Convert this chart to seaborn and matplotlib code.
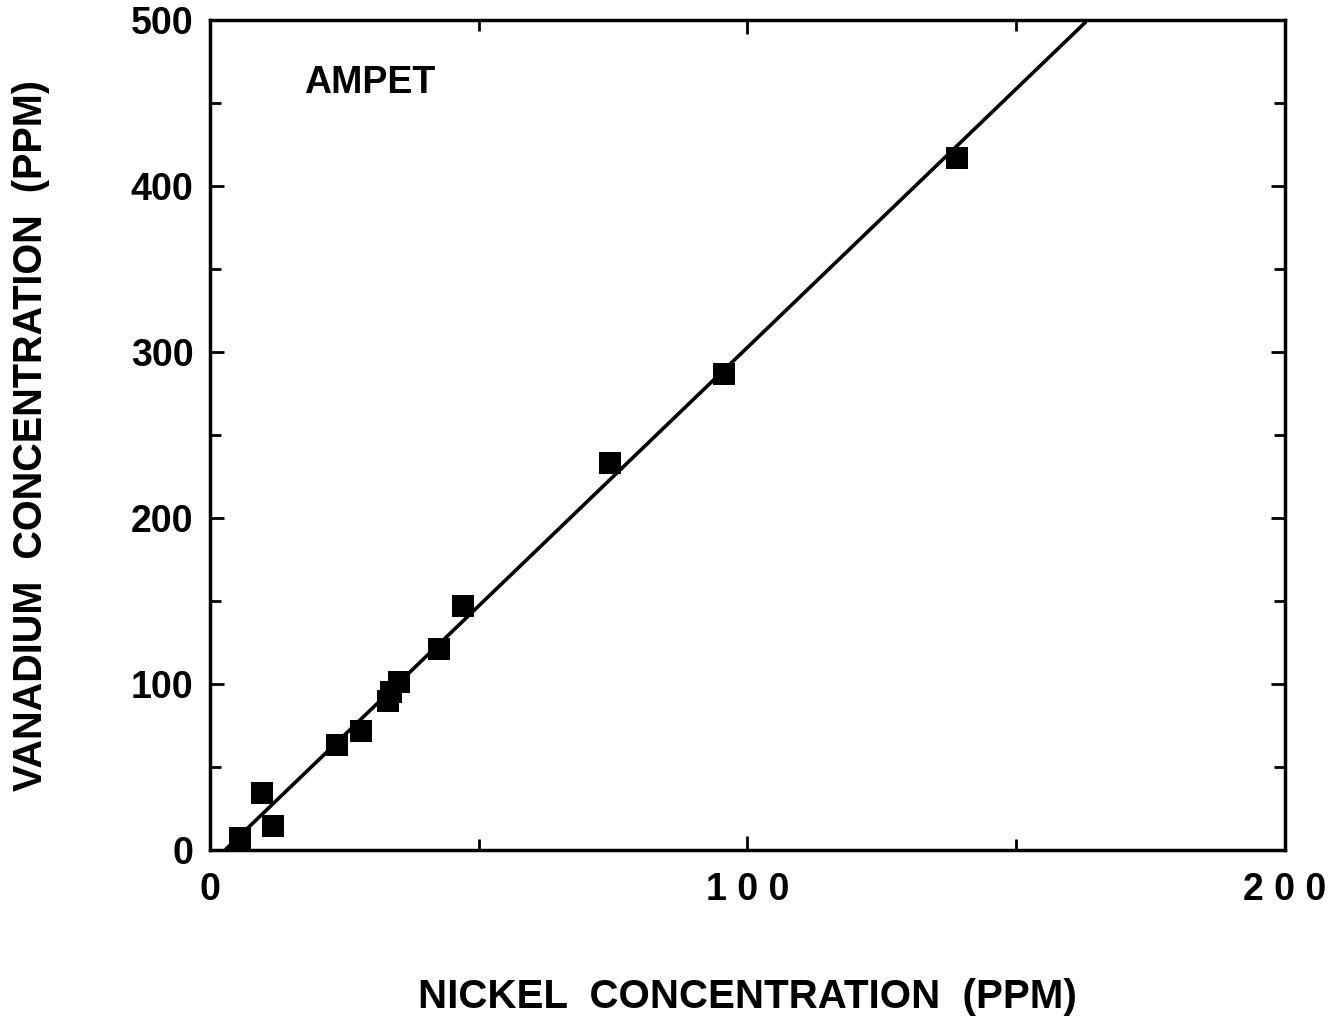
import matplotlib
matplotlib.use("Agg")
import matplotlib.pyplot as plt
import seaborn as sns
import numpy as np
import pandas as pd

nickel = [5.6, 9.7, 11.7, 23.6, 28.1, 33.1, 33.7, 35.2, 42.6, 47.1, 74.4, 95.6, 139.0]
vanadium = [7.2, 34.3, 14.5, 63.0, 72.0, 90.0, 95.0, 101.0, 121.0, 147.0, 233.0, 287.0, 417.0]
fit_slope = 3.115
fit_intercept = -8.7
x_ticks = [0, 100, 200]
x_ticklabels = ["0", "1 0 0", "2 0 0"]
y_ticks = [0, 100, 200, 300, 400, 500]

sns.set_style("white")
plt.rcParams["font.family"] = ["Liberation Sans", "DejaVu Sans"]
plt.rcParams["font.weight"] = "bold"
plt.rcParams["text.color"] = "black"
plt.rcParams["axes.labelcolor"] = "black"
plt.rcParams["xtick.color"] = "black"
plt.rcParams["ytick.color"] = "black"

fig = plt.figure(figsize=(13.34, 10.16), dpi=100)
ax = fig.add_axes([0.1574, 0.1634, 0.963 - 0.1574, 0.980 - 0.1634])

df = pd.DataFrame({"Ni": nickel, "V": vanadium})
sns.scatterplot(data=df, x="Ni", y="V", marker="s", s=240, color="black",
                edgecolor="black", linewidth=0, ax=ax, zorder=3)

x_line = np.linspace(0, 200, 400)
y_line = fit_slope * x_line + fit_intercept
mask = (y_line >= 0) & (y_line <= 500)
sns.lineplot(x=x_line[mask], y=y_line[mask], color="black", linewidth=2.6, ax=ax, zorder=2)

ax.set_xlim(0, 200)
ax.set_ylim(0, 500)
ax.set_xticks(x_ticks)
ax.set_xticklabels(x_ticklabels)
ax.set_yticks(y_ticks)
ax.set_xticks([50, 150], minor=True)
ax.set_yticks([50, 150, 250, 350, 450], minor=True)
ax.tick_params(which="both", direction="in", top=True, right=True, bottom=True, left=True,
               width=2, color="black")
ax.tick_params(which="major", length=10, labelsize=27, pad=12)
ax.tick_params(which="minor", length=8)
ax.tick_params(axis="x", which="major", pad=16)
for lab in ax.get_xticklabels() + ax.get_yticklabels():
    lab.set_fontweight("bold")
    lab.set_color("black")
for sp in ax.spines.values():
    sp.set_visible(True)
    sp.set_color("black")
    sp.set_linewidth(2.5)

ax.set_xlabel("NICKEL  CONCENTRATION  (PPM)", fontsize=29, fontweight="bold", labelpad=50,
              color="black")
ax.set_ylabel("VANADIUM  CONCENTRATION  (PPM)", fontsize=28.5, fontweight="bold", labelpad=58,
              color="black")
ax.text(0.088, 0.925, "AMPET", transform=ax.transAxes, fontsize=27, fontweight="bold",
        ha="left", va="center", color="black")

fig.savefig("out.png", dpi=100)
